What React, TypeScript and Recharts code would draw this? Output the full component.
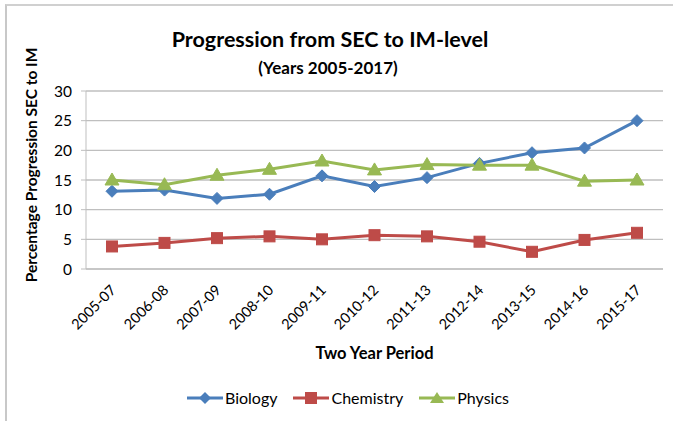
import React from 'react';
import { LineChart, Line, XAxis, YAxis, CartesianGrid, Legend } from 'recharts';

const periods = ['2005-07', '2006-08', '2007-09', '2008-10', '2009-11', '2010-12', '2011-13', '2012-14', '2013-15', '2014-16', '2015-17'];
const biology = [13.1, 13.3, 11.9, 12.6, 15.7, 13.9, 15.4, 17.8, 19.6, 20.4, 25.0];
const chemistry = [3.8, 4.4, 5.2, 5.5, 5.0, 5.7, 5.5, 4.6, 2.9, 4.9, 6.1];
const physics = [15.0, 14.2, 15.8, 16.8, 18.2, 16.7, 17.6, 17.5, 17.5, 14.8, 15.0];
const yTicks = [0, 5, 10, 15, 20, 25, 30];

const FONT = 'Lato, "Noto Sans", sans-serif';
const BLUE = '#4A7EBB';
const RED = '#BE4B48';
const GREEN = '#98B954';
const GRID = '#BFBFBF';

const chartData = periods.map((p, i) => ({
  period: p,
  Biology: biology[i],
  Chemistry: chemistry[i],
  Physics: physics[i],
}));

function Diamond(props: any) {
  const { cx, cy } = props;
  if (cx == null || cy == null) return null;
  const r = 6;
  return <path d={`M${cx},${cy - r}L${cx + r},${cy}L${cx},${cy + r}L${cx - r},${cy}Z`} fill={BLUE} stroke={BLUE} />;
}

function Square(props: any) {
  const { cx, cy } = props;
  if (cx == null || cy == null) return null;
  const s = 5.5;
  return <rect x={cx - s} y={cy - s} width={s * 2} height={s * 2} fill={RED} stroke={RED} />;
}

function Triangle(props: any) {
  const { cx, cy } = props;
  if (cx == null || cy == null) return null;
  const r = 7;
  return <path d={`M${cx},${cy - r}L${cx + r},${cy + 5}L${cx - r},${cy + 5}Z`} fill={GREEN} stroke={GREEN} />;
}

function XTick(props: any) {
  const { x, y, payload } = props;
  return (
    <g transform={`translate(${x + 5},${y + 14})`}>
      <text x={0} y={0} textAnchor="end" transform="rotate(-45)" fontSize={14.5} fill="#000" fontFamily={FONT}>
        {payload.value}
      </text>
    </g>
  );
}

const legendItems = [
  { name: 'Biology', color: BLUE, marker: 'diamond' },
  { name: 'Chemistry', color: RED, marker: 'square' },
  { name: 'Physics', color: GREEN, marker: 'triangle' },
];

function LegendContent() {
  return (
    <div style={{ display: 'flex', alignItems: 'center', fontFamily: FONT, fontSize: 16, color: '#000' }}>
      {legendItems.map((it) => (
        <div key={it.name} style={{ display: 'flex', alignItems: 'center', marginRight: 16 }}>
          <svg width={36} height={14}>
            <line x1={0} y1={7} x2={36} y2={7} stroke={it.color} strokeWidth={3} />
            {it.marker === 'diamond' && <path d="M18,1L24,7L18,13L12,7Z" fill={it.color} />}
            {it.marker === 'square' && <rect x={12} y={1} width={12} height={12} fill={it.color} />}
            {it.marker === 'triangle' && <path d="M18,1L25,12L11,12Z" fill={it.color} />}
          </svg>
          <span style={{ marginLeft: 2 }}>{it.name}</span>
        </div>
      ))}
    </div>
  );
}

export default function App() {
  return (
    <div style={{ position: 'fixed', left: 0, top: 0, width: 673, height: 421, background: '#fff', overflow: 'hidden' }}>
      <div style={{ position: 'absolute', left: 5, top: 4, right: -5, bottom: -5, borderTop: '2px solid #D0D0D0', borderLeft: '2px solid #C8C8C8' }} />
      <div style={{ position: 'absolute', left: 0, width: 660, top: 26, textAlign: 'center', fontFamily: FONT, fontWeight: 700, fontSize: 21.5, color: '#000' }}>
        Progression from SEC to IM-level
      </div>
      <div style={{ position: 'absolute', left: 0, width: 656, top: 57, textAlign: 'center', fontFamily: FONT, fontWeight: 700, fontSize: 17, color: '#000' }}>
        (Years 2005-2017)
      </div>
      <div
        style={{
          position: 'absolute',
          left: 31,
          top: 165,
          transform: 'translate(-50%, -50%) rotate(-90deg)',
          whiteSpace: 'nowrap',
          fontFamily: FONT,
          fontWeight: 700,
          fontSize: 15.5,
          color: '#000',
        }}
      >
        Percentage Progression SEC to IM
      </div>
      <div style={{ position: 'absolute', left: 0, top: 0 }}>
        <LineChart width={673} height={421} data={chartData} margin={{ top: 91, right: 10, left: 46, bottom: 60 }}>
          <CartesianGrid vertical={false} stroke={GRID} strokeWidth={1.3} />
          <XAxis
            dataKey="period"
            height={92}
            padding={{ left: 26, right: 26 }}
            axisLine={{ stroke: GRID }}
            tickLine={false}
            interval={0}
            tick={<XTick />}
            label={{ value: 'Two Year Period', position: 'insideBottom', offset: 2, fill: '#000', fontSize: 16.5, fontWeight: 700, fontFamily: FONT }}
          />
          <YAxis
            width={40}
            domain={[0, 30]}
            ticks={yTicks}
            axisLine={{ stroke: GRID }}
            tickLine={{ stroke: GRID }}
            tickSize={5}
            tickMargin={9}
            tick={{ fill: '#000', fontSize: 15.5, fontFamily: FONT }}
          />
          <Legend verticalAlign="middle" layout="horizontal" content={<LegendContent />} wrapperStyle={{ top: 388, left: 187, width: 'auto' }} />
          <Line type="linear" dataKey="Biology" stroke={BLUE} strokeWidth={3} dot={<Diamond />} activeDot={false} isAnimationActive={false} />
          <Line type="linear" dataKey="Chemistry" stroke={RED} strokeWidth={3} dot={<Square />} activeDot={false} isAnimationActive={false} />
          <Line type="linear" dataKey="Physics" stroke={GREEN} strokeWidth={3} dot={<Triangle />} activeDot={false} isAnimationActive={false} />
        </LineChart>
      </div>
    </div>
  );
}
